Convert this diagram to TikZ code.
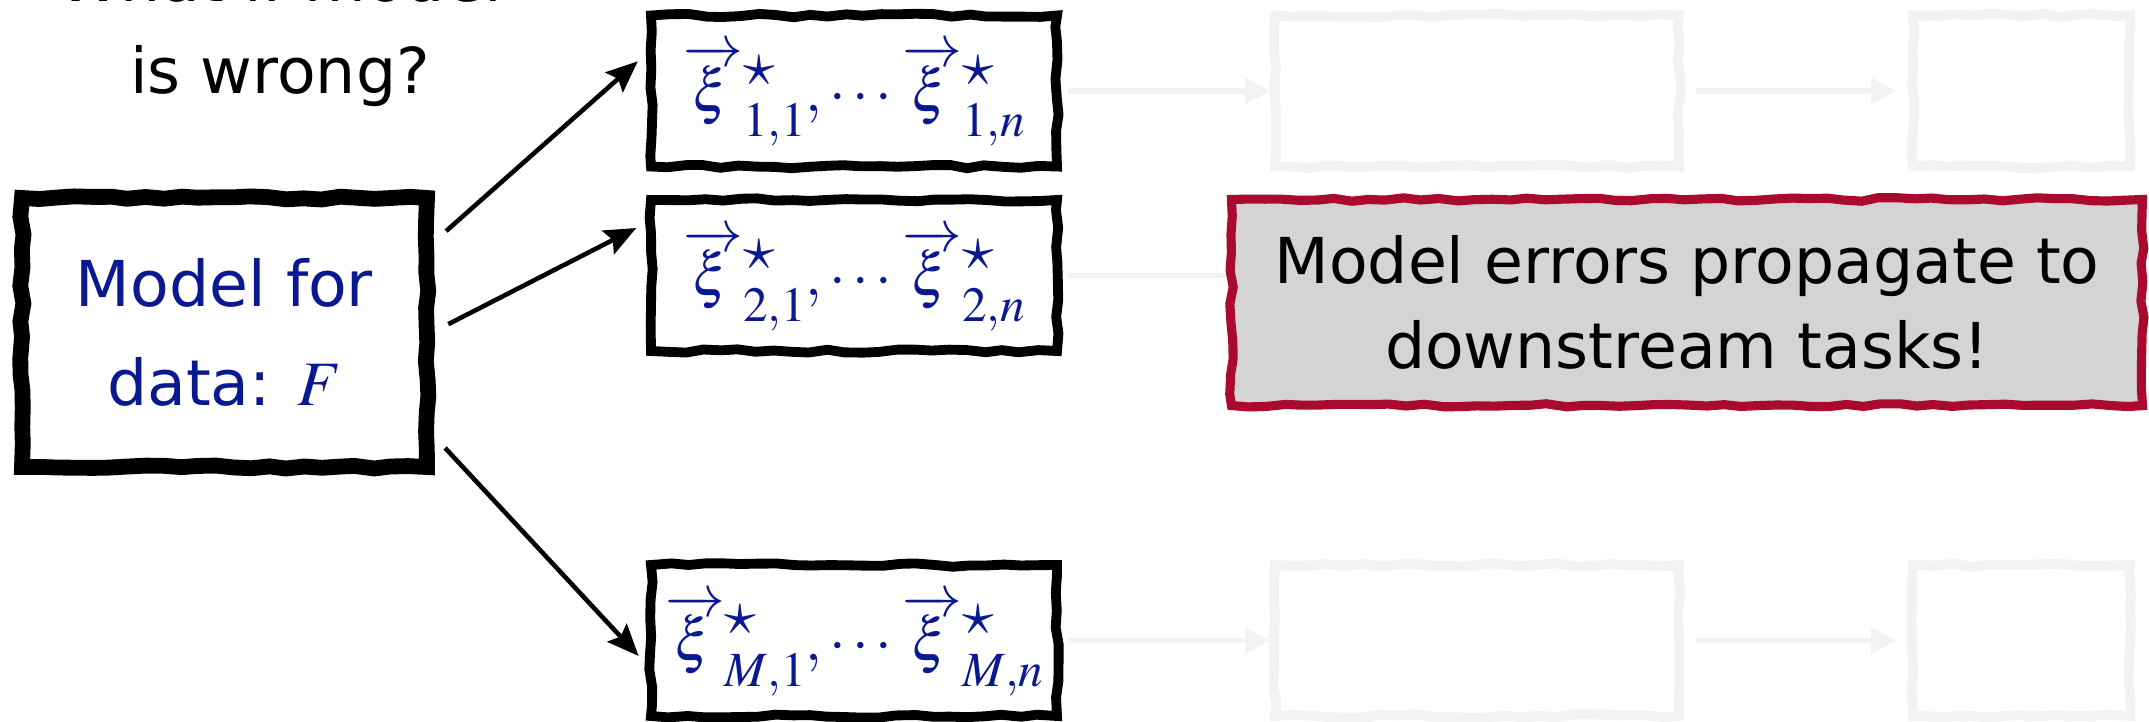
\documentclass[tikz,border=0pt]{standalone}
\usepackage{mathptmx}
\usepackage[no-math]{fontspec}
\newfontfamily\handfont{DejaVu Sans}
\usetikzlibrary{arrows.meta, decorations.pathmorphing}
\definecolor{inkblue}{RGB}{10,25,145}
\definecolor{alarmred}{RGB}{170,10,45}
\definecolor{ghost}{RGB}{242,242,242}
% one drawn vector: arrow over xi, star on top, index below
\newcommand{\drawxi}[1]{\overrightarrow{\mkern3mu\rule{0pt}{0.8em}\xi\mkern4mu}\rlap{\raisebox{0.43em}{\fontsize{18}{18}\selectfont$\star$}}\raisebox{-0.43em}{\fontsize{14}{14}\selectfont$#1$}}

\begin{document}
\begin{tikzpicture}[
x={(1 cm, 0 cm)}, y={(0 cm, 1 cm)},
% #region Picture settings %
sketch/.style={draw, decorate, decoration={random steps, segment length=5pt, amplitude=0.5pt}, inner sep=0pt},
modelbox/.style={sketch, line width=4.5pt, minimum width=4.05cm, minimum height=2.69cm, align=center, text=inkblue, font=\handfont\fontsize{18}{28}\selectfont},
drawbox/.style={sketch, line width=2.8pt, minimum width=4.06cm, minimum height=1.51cm},
drawtext/.style={anchor=base, inner sep=0pt, text=inkblue, font=\fontsize{17}{21}\selectfont},
fadebox/.style={sketch, draw=ghost, line width=2.8pt, minimum height=1.51cm},
warnbox/.style={sketch, draw=alarmred, fill=black!17, line width=2.6pt, minimum width=9.11cm, minimum height=2.06cm, align=center, font=\handfont\fontsize{18}{24}\selectfont},
ev/.style={-{Stealth[length=9pt, width=7.5pt, inset=1.5pt]}, line width=1.3pt, shorten <=0.15cm, shorten >=0.11cm},
fade/.style={-{Triangle[length=0.25cm, width=0.25cm]}, draw=ghost, line width=1.7pt},
% #endregion Picture settings %
]
\pgfmathsetseed{11}
\clip (0,0) rectangle (21.49,-7.21);

\node[align=center, inner sep=0pt, font=\handfont\fontsize{18}{26}\selectfont] (question) at (2.80,-0.30) {What if model\\is wrong?};
\node[modelbox] (model) at (2.245,-3.325) {Model for\\data: $F$};

% draws from the model
\node[drawbox] (row1) at (8.54,-0.91) {};
\node[drawbox] (row2) at (8.54,-2.755) {};
\node[drawbox] (rowM) at (8.54,-6.405) {};
\node[drawtext] (row1x) at ([yshift=-0.20cm]row1.center) {$\drawxi{1{,}1},\cdots\mkern1mu\drawxi{1{,}n}$};
\node[drawtext] (row2x) at ([yshift=-0.20cm]row2.center) {$\drawxi{2{,}1},\cdots\mkern1mu\drawxi{2{,}n}$};
\node[drawtext] (rowMx) at ([yshift=-0.20cm]rowM.center) {$\drawxi{M{,}1},\cdots\mkern1mu\drawxi{M{,}n}$};

% faded downstream steps
\node[fadebox, minimum width=4.04cm] (mid1) at (14.77,-0.91) {};
\node[fadebox, minimum width=2.17cm] (end1) at (20.215,-0.91) {};
\node[fadebox, minimum width=4.04cm] (mid2) at (14.77,-2.755) {};
\node[fadebox, minimum width=2.17cm] (end2) at (20.215,-2.755) {};
\node[fadebox, minimum width=4.04cm] (midM) at (14.77,-6.405) {};
\node[fadebox, minimum width=2.17cm] (endM) at (20.215,-6.405) {};

\draw[fade, shorten <=0.06cm] (row1) -- (mid1);
\draw[fade, shorten <=0.12cm, shorten >=0.12cm] (mid1) -- (end1);
\draw[fade, shorten <=0.06cm] (row2) -- (mid2);
\draw[fade, shorten <=0.12cm, shorten >=0.12cm] (mid2) -- (end2);
\draw[fade, shorten <=0.06cm] (rowM) -- (midM);
\draw[fade, shorten <=0.12cm, shorten >=0.12cm] (midM) -- (endM);

\node[warnbox] (warn) at (16.87,-3.025) {Model errors propagate to\\downstream tasks!};

\draw[ev] ([yshift=0.915cm]model.east) -- ([yshift=0.37cm]row1.west);
\draw[ev] ([yshift=0.015cm]model.east) -- ([yshift=0.525cm]row2.west);
\draw[ev] ([yshift=-1.045cm]model.east) -- ([yshift=-0.235cm]rowM.west);

\end{tikzpicture}
\end{document}
